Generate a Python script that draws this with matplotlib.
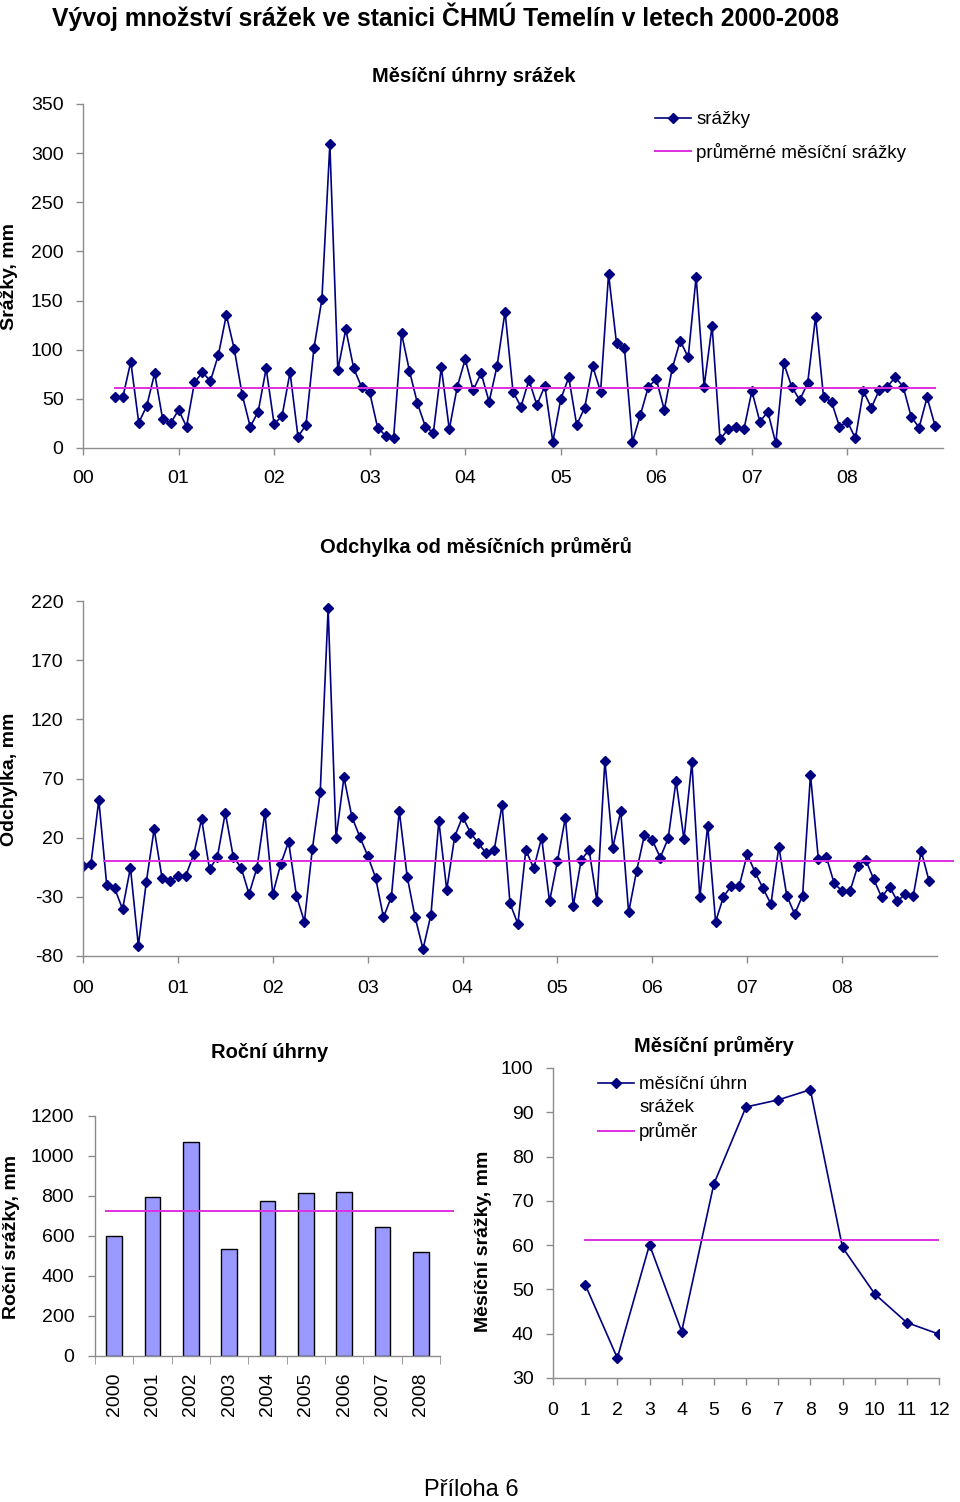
import numpy as np
import matplotlib.pyplot as plt
from matplotlib.lines import Line2D

plt.rcParams["font.family"] = ["Liberation Sans", "DejaVu Sans"]
plt.rcParams["axes.unicode_minus"] = False

W, H = 960, 1502

NAVY = "#000080"
MAGENTA = "#E02EE0"
GREY = "#8C8C8C"
BAR = "#9999FF"

YEAR_TICKS = ["00", "01", "02", "03", "04", "05", "06", "07", "08"]

# monthly totals (mm), May 2000 .. Dec 2008
first_month = 4  # 0 = Jan 2000
monthly_precip = [
    51.6, 51.6, 87.8, 25.7, 42.7, 76, 29.5, 25.1, 38.7, 21.7,
    66.8, 77, 68.2, 94.6, 135.3, 100.4, 53.9, 21.7, 36.9, 81,
    24.4, 32.6, 77, 11.5, 23.4, 101.4, 151.3, 309, 79.3, 120.7,
    81, 61.7, 56.6, 20.7, 12.5, 9.8, 116.7, 78.3, 45.4, 21.7,
    15.6, 82.1, 19, 62.4, 90.2, 59, 76, 47.1, 83.4, 138.7,
    57.3, 42, 69.2, 43.7, 63.1, 6.4, 49.8, 71.9, 23.4, 41,
    83.4, 57.3, 177, 106.5, 101.4, 6.4, 33.6, 62.4, 69.9, 38.7,
    81, 109.2, 92.2, 174.3, 62.4, 124.4, 8.8, 19, 21.7, 19,
    58, 26.8, 36.9, 4.8, 86.2, 62.4, 48.8, 65.8, 133.6, 51.6,
    47.1, 21.7, 26.8, 9.8, 58, 41, 59, 62.4, 71.9, 62.4,
    31.9, 20.7, 51.6, 22.7,
]
monthly_avg = 61.5

# deviation from the long-term monthly mean (mm), Jan 2000 .. Dec 2008
deviation = [
    -3.9, -2.5, 51.8, -20, -22.8, -40.3, -5.4, -71.3, -17.7, 27.3,
    -14.3, -16.6, -12.1, -12.1, 5.9, 35.8, -6.7, 3.9, 41.1, 3.9,
    -5.4, -27.6, -5.4, 41.1, -27.6, -2.5, 16.6, -29.3, -51, 10.2,
    58.3, 213.8, 19.4, 71, 37.7, 20.8, 4.8, -13.8, -47.3, -29.9,
    42.5, -13, -47.3, -74.1, -45.3, 34.1, -24.2, 20.8, 37.7, 24.2,
    15.2, 6.7, 9.6, 47.6, -35.5, -53, 9.6, -5.9, 20, -33.8,
    0, 36.9, -37.7, 1.1, 9.6, -33.8, 85, 11.5, 42.5, -43.1,
    -8.5, 22.3, 18, 3.1, 19.4, 67.9, 18.6, 83.7, -30.4, 29.9,
    -51, -29.9, -20.6, -20.6, 5.9, -9.3, -22.8, -36.1, 12.4, -29,
    -44.5, -29, 73, 1.7, 3.9, -18.6, -25.1, -25.1, -3.6, 1.1,
    -15.2, -30.4, -21.4, -33.8, -27.3, -29, 8.7, -16.6,
]
deviation_avg = 0

years = ["2000", "2001", "2002", "2003", "2004", "2005", "2006", "2007", "2008"]
annual_totals = [600, 797, 1072, 537, 777, 815, 822, 643, 518]
annual_avg = 725

months = list(range(1, 13))
month_means = [51.1, 34.5, 60.1, 40.5, 73.8, 91.2, 92.8, 95.1, 59.5, 49.0, 42.5, 39.9]
month_means_avg = 61.1


def px_axes(fig, left, top, right, bottom):
    return fig.add_axes([left / W, 1 - bottom / H, (right - left) / W, (bottom - top) / H])


def style(ax, xpad, ypad):
    for side in ("top", "right"):
        ax.spines[side].set_visible(False)
    for side in ("left", "bottom"):
        ax.spines[side].set_color(GREY)
        ax.spines[side].set_linewidth(1.0)
    ax.tick_params(colors=GREY, labelcolor="black", labelsize=14, length=5, width=1)
    ax.tick_params(axis="x", pad=xpad)
    ax.tick_params(axis="y", pad=ypad)
    ax.patch.set_alpha(0)


def ftext(x, y, s, **kw):
    fig.text(x / W, 1 - y / H, s, ha="center", va="center", **kw)


fig = plt.figure(figsize=(W / 100, H / 100), dpi=100)

# monthly totals
ax1 = px_axes(fig, 83, 104, 943, 448)
x1 = np.arange(first_month, first_month + len(monthly_precip))
ax1.plot(x1, monthly_precip, color=NAVY, lw=1.2, marker="D", ms=5.5, label="srážky")
ax1.plot([x1[0], x1[-1]], [monthly_avg, monthly_avg], color=MAGENTA, lw=1.4,
         label="průměrné měsíční srážky")
ax1.set_xlim(0, 108)
ax1.set_ylim(0, 350)
ax1.set_yticks(range(0, 351, 50))
ax1.set_xticks(range(0, 97, 12), YEAR_TICKS)
style(ax1, 11, 9)
ax1.legend(loc="upper left", bbox_to_anchor=(655 / W, 1 - 111 / H),
           bbox_transform=fig.transFigure, frameon=False, fontsize=13.5,
           handlelength=1.9, handletextpad=0.3, labelspacing=0.78,
           borderpad=0, borderaxespad=0, numpoints=1)

# deviation
ax2 = px_axes(fig, 83, 601, 937, 956)
x2 = np.arange(len(deviation))
ax2.plot(x2, deviation, color=NAVY, lw=1.2, marker="D", ms=5.5)
ax2.plot([2.6, 110], [deviation_avg, deviation_avg], color=MAGENTA, lw=1.4, clip_on=False)
ax2.set_xlim(0, 108)
ax2.set_ylim(-80, 220)
ax2.set_yticks(range(-80, 221, 50))
ax2.set_xticks(range(0, 97, 12), YEAR_TICKS)
style(ax2, 12, 9)

# annual totals
ax3 = px_axes(fig, 95, 1116, 440, 1356)
ax3.bar(range(len(years)), annual_totals, width=0.41, color=BAR, edgecolor="black", lw=1)
ax3.plot([-0.21, 8.85], [annual_avg, annual_avg], color=MAGENTA, lw=1.4, clip_on=False)
ax3.set_xlim(-0.5, len(years) - 0.5)
ax3.set_ylim(0, 1200)
ax3.set_yticks(range(0, 1201, 200))
ax3.set_xticks(range(len(years)), years, rotation=90)
ax3.set_xticks(np.arange(-0.5, len(years)), minor=True)
style(ax3, 10, 10)
ax3.tick_params(axis="x", which="major", length=0, pad=12)
ax3.tick_params(axis="x", which="minor", length=6, color=GREY)

# monthly means
ax4 = px_axes(fig, 553, 1068, 939, 1378)
l1, = ax4.plot(months, month_means, color=NAVY, lw=1.2, marker="D", ms=5.5)
l2, = ax4.plot([months[0], months[-1]], [month_means_avg, month_means_avg], color=MAGENTA, lw=1.4)
ax4.set_xlim(0, 12)
ax4.set_ylim(30, 100)
ax4.set_yticks(range(30, 101, 10))
ax4.set_xticks(range(0, 13))
style(ax4, 12, 9)
ax4.legend(handles=[l1, Line2D([], [], color="none"), l2],
           labels=["měsíční úhrn", "srážek", "průměr"],
           loc="upper left", bbox_to_anchor=(598 / W, 1 - 1076 / H),
           bbox_transform=fig.transFigure, frameon=False, fontsize=13.5,
           handlelength=1.9, handletextpad=0.3, labelspacing=0.32,
           borderpad=0, borderaxespad=0, numpoints=1)

# texts
ftext(445, 17, "Vývoj množství srážek ve stanici ČHMÚ Temelín v letech 2000-2008",
      fontsize=17.8, fontweight="bold")
ftext(474, 76, "Měsíční úhrny srážek", fontsize=14.5, fontweight="bold")
ftext(476, 547, "Odchylka od měsíčních průměrů", fontsize=14.5, fontweight="bold")
ftext(270, 1053, "Roční úhrny", fontsize=14.5, fontweight="bold")
ftext(714, 1046, "Měsíční průměry", fontsize=14.5, fontweight="bold")
ftext(10, 277, "Srážky, mm", fontsize=14, fontweight="bold", rotation=90)
ftext(10, 779, "Odchylka, mm", fontsize=14, fontweight="bold", rotation=90)
ftext(12, 1237, "Roční srážky, mm", fontsize=14, fontweight="bold", rotation=90)
ftext(483, 1241, "Měsíční srážky, mm", fontsize=14, fontweight="bold", rotation=90)
ftext(471, 1490, "Příloha 6", fontsize=17)

fig.savefig("out.png", dpi=100)
